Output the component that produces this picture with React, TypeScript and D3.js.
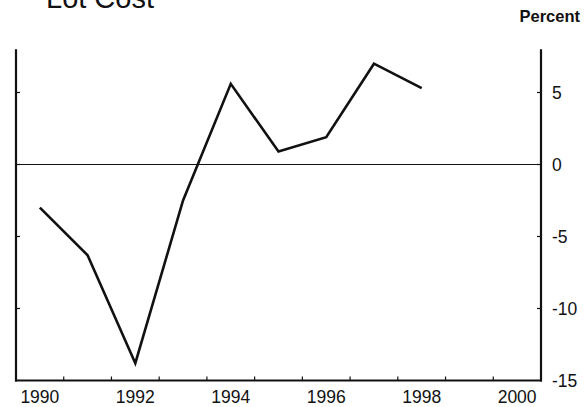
import * as d3 from "d3";

const years = [1990, 1991, 1992, 1993, 1994, 1995, 1996, 1997, 1998];
const lotCost = [-3.0, -6.3, -13.8, -2.5, 5.6, 0.9, 1.9, 7.0, 5.3];
const yearLabels = [1990, 1992, 1994, 1996, 1998, 2000];
const yTicks = [5, 0, -5, -10, -15];
const yearBounds = [1990.5, 1991.5, 1992.5, 1993.5, 1994.5, 1995.5, 1996.5, 1997.5, 1998.5, 1999.5];

export default function App() {
  const W = 587;
  const H = 407;
  const left = 16;
  const right = 541;
  const top = 49.3;
  const bottom = 380.5;

  const x = d3.scaleLinear().domain([1989.5, 2000.5]).range([left, right]);
  const y = d3.scaleLinear().domain([-15, 8]).range([bottom, top]);

  const line = d3
    .line<number>()
    .x((_, i) => x(years[i]))
    .y((d) => y(d));

  const font = "Liberation Sans, Arial, sans-serif";

  return (
    <svg
      width={W}
      height={H}
      style={{ position: "absolute", left: 0, top: 0, background: "#fff" }}
      fontFamily={font}
    >
      <text x={46} y={7.5} fontSize={29} fill="#111">
        Lot Cost
      </text>
      <text x={580} y={21.5} fontSize={16.5} fontWeight="bold" fill="#111" textAnchor="end">
        Percent
      </text>

      {/* zero line */}
      <line x1={left} x2={right} y1={y(0)} y2={y(0)} stroke="#111" strokeWidth={1.2} />

      {/* axes */}
      <line x1={left} x2={left} y1={top} y2={bottom + 1} stroke="#111" strokeWidth={2.2} />
      <line x1={right} x2={right} y1={top} y2={bottom + 1} stroke="#111" strokeWidth={2.2} />
      <line x1={left - 1} x2={right + 1} y1={bottom} y2={bottom} stroke="#111" strokeWidth={2} />

      {yTicks
        .filter((t) => t > -15)
        .map((t) => (
          <g key={t}>
            <line x1={left} x2={left + 4} y1={y(t)} y2={y(t)} stroke="#111" strokeWidth={1.2} />
            <line x1={right - 4} x2={right} y1={y(t)} y2={y(t)} stroke="#111" strokeWidth={1.2} />
          </g>
        ))}
      {yTicks.map((t) => (
        <text key={t} x={552} y={y(t) + 6.5} fontSize={17.5} fill="#111">
          {t}
        </text>
      ))}

      {yearBounds.map((b) => (
        <line key={b} x1={x(b)} x2={x(b)} y1={bottom} y2={bottom - 4} stroke="#111" strokeWidth={1.2} />
      ))}
      {yearLabels.map((yr) => (
        <text key={yr} x={x(yr)} y={402.5} fontSize={17.5} fill="#111" textAnchor="middle">
          {yr}
        </text>
      ))}

      <path d={line(lotCost) ?? ""} fill="none" stroke="#111" strokeWidth={2.6} strokeLinejoin="miter" />
    </svg>
  );
}
